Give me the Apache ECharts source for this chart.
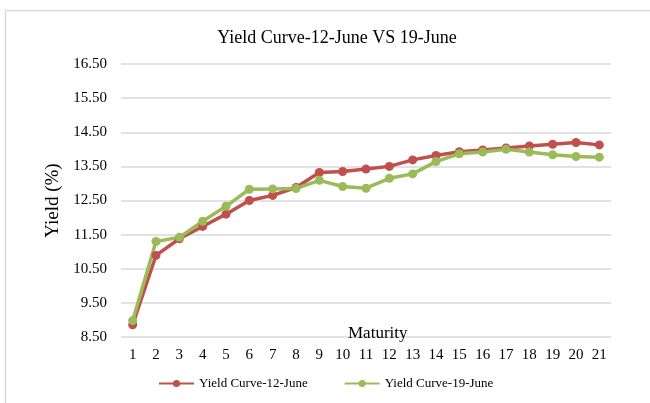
<!DOCTYPE html>
<html>
<head>
<meta charset="utf-8">
<script src="https://cdn.jsdelivr.net/npm/echarts@6/dist/echarts.min.js"></script>
<style>html,body{margin:0;padding:0;background:#fff}#c{width:650px;height:403px}</style>
</head>
<body>
<div id="c"></div>
<script>
const maturities = ['1','2','3','4','5','6','7','8','9','10','11','12','13','14','15','16','17','18','19','20','21'];
const june12 = [8.86,10.89,11.38,11.74,12.10,12.50,12.65,12.88,13.32,13.35,13.42,13.50,13.69,13.82,13.93,13.98,14.04,14.10,14.15,14.20,14.13];
const june19 = [8.98,11.30,11.42,11.89,12.33,12.83,12.84,12.85,13.09,12.91,12.86,13.15,13.28,13.64,13.87,13.92,14.00,13.92,13.84,13.79,13.77];
const yTicks = [8.5, 16.5, 1];

const serif = '"Liberation Serif","Times New Roman",serif';
const chart = echarts.init(document.getElementById('c'));
chart.setOption({
  animation: false,
  backgroundColor: '#fff',
  title: {
    text: 'Yield Curve-12-June VS 19-June',
    left: 332, textAlign: 'center', top: 24,
    textStyle: {fontFamily: serif, fontSize: 18, fontWeight: 'normal', color: '#000'}
  },
  graphic: [{
    type: 'rect', shape: {x: 5.5, y: 10.5, width: 700, height: 500},
    style: {fill: 'none', stroke: '#d9d9d9', lineWidth: 1.5}, silent: true, z: -1
  }, {
    type: 'text', left: 348, top: 325, z: 10,
    style: {text: 'Maturity', font: '17px ' + serif, fill: '#000'}
  }],
  legend: {
    bottom: 8, left: 153, itemGap: 36, itemWidth: 35, itemHeight: 9,
    textStyle: {fontFamily: serif, fontSize: 13, color: '#000'},
    data: ['Yield Curve-12-June', 'Yield Curve-19-June']
  },
  grid: {left: 121, right: 39, top: 64, bottom: 66},
  xAxis: {
    type: 'category', data: maturities, boundaryGap: true,
    axisLine: {show: false}, axisTick: {show: false},
    axisLabel: {fontFamily: serif, fontSize: 15, color: '#000', margin: 11}
  },
  yAxis: {
    type: 'value', min: yTicks[0], max: yTicks[1], interval: yTicks[2],
    name: 'Yield (%)', nameLocation: 'middle', nameGap: 56,
    nameTextStyle: {fontFamily: serif, fontSize: 19, color: '#000'},
    axisLine: {show: false}, axisTick: {show: false},
    axisLabel: {fontFamily: serif, fontSize: 15, color: '#000', margin: 14, formatter: v => v.toFixed(2)},
    splitLine: {lineStyle: {color: '#d9d9d9', width: 1.5}}
  },
  series: [
    {name: 'Yield Curve-12-June', type: 'line', data: june12, symbol: 'circle', symbolSize: 9,
     itemStyle: {color: '#C0504D'}, lineStyle: {width: 3.5, color: '#C0504D'}},
    {name: 'Yield Curve-19-June', type: 'line', data: june19, symbol: 'circle', symbolSize: 9,
     itemStyle: {color: '#9BBB59'}, lineStyle: {width: 3.5, color: '#9BBB59'}}
  ]
});
</script>
</body>
</html>
